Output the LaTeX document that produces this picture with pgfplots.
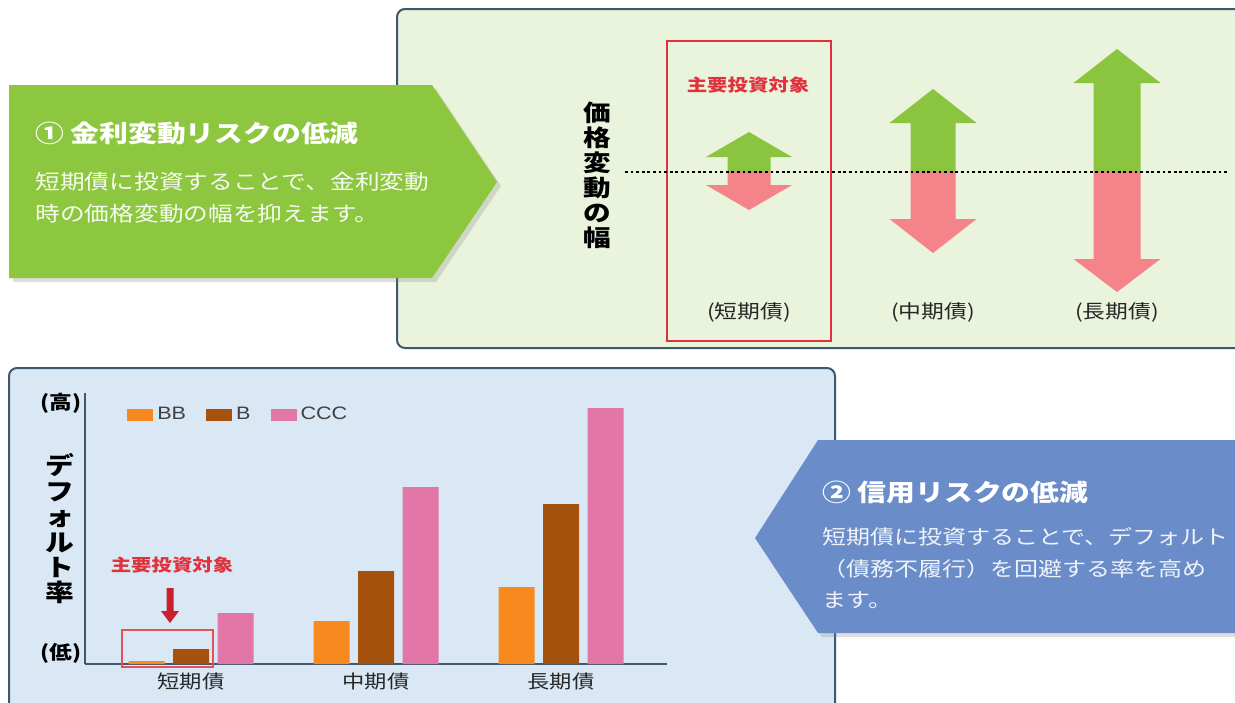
\documentclass[border=0pt]{standalone}
\usepackage{fontspec}
\usepackage{pgfplots}
\pgfplotsset{compat=1.18}
\usetikzlibrary{shadows}
\newfontfamily\jp[FakeStretch=1.2]{Noto Sans CJK JP}
\newfontfamily\lat[FakeStretch=1.2]{Liberation Sans}
\newcommand{\fs}[2]{\fontsize{#1}{#2}\selectfont}
\definecolor{panelgreen}{HTML}{EAF3DC}
\definecolor{panelblue}{HTML}{DAE8F5}
\definecolor{frame}{HTML}{3F5870}
\definecolor{leafgreen}{HTML}{8DC63F}
\definecolor{arrowgreen}{HTML}{8BC43F}
\definecolor{arrowpink}{HTML}{F4838A}
\definecolor{steelblue}{HTML}{6A8DC9}
\definecolor{bbcol}{HTML}{F7891F}
\definecolor{bcol}{HTML}{A5520F}
\definecolor{ccccol}{HTML}{E276A6}
\definecolor{keyred}{HTML}{E0323C}
\definecolor{darkred}{HTML}{C8202E}
\begin{document}
\begin{tikzpicture}
\path[use as bounding box] (0,0) rectangle (617.5pt,-351pt);
\fill[white] (0,0) rectangle (617.5pt,-351pt);
% panels and the two call-out arrows (pixel grid, y down)
\begin{scope}[x=0.5pt,y=-0.5pt]
  \draw[frame, line width=1pt, fill=panelgreen, rounded corners=4pt] (397,9) rectangle (1260,348);
  \draw[frame, line width=1pt, fill=panelblue, rounded corners=4pt] (9,368) rectangle (835,740);
  \fill[leafgreen, drop shadow={shadow xshift=2pt, shadow yshift=-2pt, opacity=0.25}]
    (9,85) -- (432,85) -- (497,182) -- (432,278) -- (9,278) -- cycle;
  \fill[steelblue, drop shadow={shadow xshift=2pt, shadow yshift=-2pt, opacity=0.25}]
    (1260,440) -- (818,440) -- (755,538) -- (818,633) -- (1260,633) -- cycle;
  \node[anchor=west, inner sep=0, text=white, font=\jp\bfseries\fs{12}{14}] at (35,133) {① 金利変動リスクの低減};
  \node[anchor=west, inner sep=0, text=white!92!leafgreen, font=\jp\fs{10.3}{12}] at (35,182) {短期債に投資することで、金利変動};
  \node[anchor=west, inner sep=0, text=white!92!leafgreen, font=\jp\fs{10.3}{12}] at (35,214) {時の価格変動の幅を抑えます。};
  \node[anchor=west, inner sep=0, text=white, font=\jp\bfseries\fs{12}{14}] at (822,492) {② 信用リスクの低減};
  \node[anchor=west, inner sep=0, text=white!90!steelblue, font=\jp\fs{10}{12}] at (822,537) {短期債に投資することで、デフォルト};
  \node[anchor=west, inner sep=0, text=white!90!steelblue, font=\jp\fs{10}{12}] at (822,569) {（債務不履行）を回避する率を高め};
  \node[anchor=west, inner sep=0, text=white!90!steelblue, font=\jp\fs{10}{12}] at (822,600) {ます。};
  % top panel texts
  \node[align=center, inner sep=0, font=\jp\bfseries\fs{11.5}{12.5}] at (597,175) {価\\格\\変\\動\\の\\幅};
  \draw[keyred, line width=0.8pt] (667,41) rectangle (831,341);
  \node[inner sep=0, text=keyred, font=\jp\bfseries\fs{8.5}{10}] at (748,85) {主要投資対象};
  \node[inner sep=0, text=black!85, font=\jp\fs{9.5}{11}] at (749,312) {(短期債)};
  \node[inner sep=0, text=black!85, font=\jp\fs{9.5}{11}] at (933,312) {(中期債)};
  \node[inner sep=0, text=black!85, font=\jp\fs{9.5}{11}] at (1117,312) {(長期債)};
  % bottom panel axis texts
  \node[inner sep=0, font=\jp\bfseries\fs{9.5}{11}] at (61,403) {(高)};
  \node[inner sep=0, font=\jp\bfseries\fs{9.5}{11}] at (61,653) {(低)};
  \node[align=center, inner sep=0, font=\jp\bfseries\fs{12}{12.7}] at (60,529) {デ\\フ\\ォ\\ル\\ト\\率};
\end{scope}

% price fluctuation arrows: y is pixels above the dotted line
\begin{axis}[at={(198.5pt,-174pt)}, anchor=south west, scale only axis,
  width=419pt, height=169.5pt, xmin=397, xmax=1235, ymin=-176, ymax=163,
  hide axis, clip=false]
  % short term
  \addplot[fill=arrowgreen, draw=none] coordinates {(727.5,0) (727.5,15) (706,15) (749,40) (792,15) (770.5,15) (770.5,0)} -- cycle;
  \addplot[fill=arrowpink, draw=none] coordinates {(727.5,0) (727.5,-13) (706,-13) (749,-38) (792,-13) (770.5,-13) (770.5,0)} -- cycle;
  % mid term
  \addplot[fill=arrowgreen, draw=none] coordinates {(910.5,0) (910.5,49) (889.5,49) (933,83) (976.5,49) (955.5,49) (955.5,0)} -- cycle;
  \addplot[fill=arrowpink, draw=none] coordinates {(910.5,0) (910.5,-47) (889.5,-47) (933,-81) (976.5,-47) (955.5,-47) (955.5,0)} -- cycle;
  % long term
  \addplot[fill=arrowgreen, draw=none] coordinates {(1093.5,0) (1093.5,89) (1073.5,89) (1117,123) (1160.5,89) (1140.5,89) (1140.5,0)} -- cycle;
  \addplot[fill=arrowpink, draw=none] coordinates {(1093.5,0) (1093.5,-87) (1073.5,-87) (1117,-120) (1160.5,-87) (1140.5,-87) (1140.5,0)} -- cycle;
  \addplot[black, line width=0.7pt, dash pattern=on 1.4pt off 1.4pt] coordinates {(625,0) (1227,0)};
\end{axis}

% default rate bars
\begin{axis}[at={(42.5pt,-332pt)}, anchor=south west, scale only axis,
  width=291pt, height=135.5pt,
  xmin=-0.573, xmax=2.573, ymin=0, ymax=271,
  axis x line*=bottom, axis y line*=left,
  axis line style={frame, line width=1pt},
  ybar=4.25pt, bar width=18pt,
  xtick={0,1,2}, xticklabels={短期債,中期債,長期債},
  ytick=\empty, major tick length=0pt,
  xticklabel style={font=\jp\fs{9.3}{10}, text=black!85, yshift=-1pt},
  legend style={at={(0.072,0.919)}, anchor=west, draw=none, fill=none,
    legend columns=-1, font=\lat\fs{9}{10}, text=black!75, inner sep=0pt,
    /tikz/every even column/.append style={column sep=8pt}},
  legend image code/.code={\fill[#1] (0pt,-3pt) rectangle (13pt,3pt);},
  clip=false]
  \addplot[fill=bbcol, draw=none] coordinates {(0,3) (1,43) (2,77)};
  \addplot[fill=bcol, draw=none] coordinates {(0,15) (1,93) (2,160)};
  \addplot[fill=ccccol, draw=none] coordinates {(0,51) (1,177) (2,256)};
  \legend{BB,B,CCC}
\end{axis}

\begin{scope}[x=0.5pt,y=-0.5pt]
  \draw[keyred!85!white, line width=0.7pt] (122,630) rectangle (213,667);
  \fill[darkred] (166.5,588) -- (173.5,588) -- (173.5,611) -- (179,611) -- (170,623) -- (161,611) -- (166.5,611) -- cycle;
  \node[inner sep=0, text=keyred, font=\jp\bfseries\fs{8.5}{10}] at (172,565) {主要投資対象};
\end{scope}
\end{tikzpicture}
\end{document}
